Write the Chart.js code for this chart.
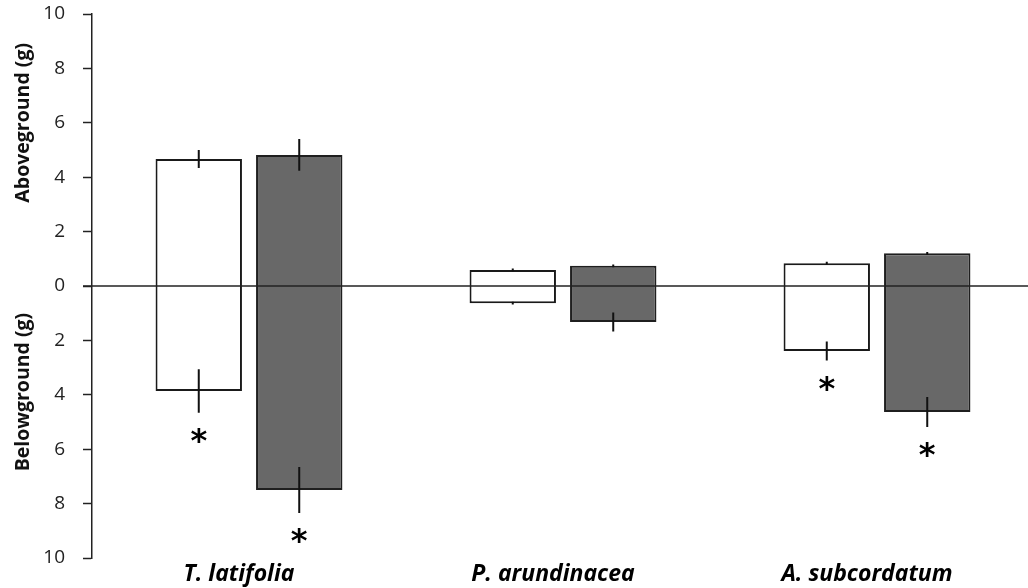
<!DOCTYPE html>
<html>
<head>
<meta charset="utf-8">
<script src="https://cdn.jsdelivr.net/npm/chart.js@4"></script>
<style>
  html, body { margin: 0; padding: 0; background: #fff; overflow: hidden; }
  #wrap { width: 1034px; height: 588px; }
</style>
</head>
<body>
<div id="wrap"><canvas id="biomassChart" width="1034" height="588"></canvas></div>
<script>
// Data (g)
const species = ['T. latifolia', 'P. arundinacea', 'A. subcordatum'];
const yTicks = [-10, -8, -6, -4, -2, 0, 2, 4, 6, 8, 10];

const whiteAbove = [4.67, 0.59, 0.84];
const whiteAboveSE = [0.33, 0.05, 0.05];
const whiteBelow = [3.86, 0.63, 2.39];
const whiteBelowSE = [0.80, 0.05, 0.35];
const whiteSig = [true, false, true];

const grayAbove = [4.82, 0.74, 1.20];
const grayAboveSE = [0.58, 0.05, 0.05];
const grayBelow = [7.50, 1.32, 4.63];
const grayBelowSE = [0.85, 0.35, 0.55];
const graySig = [true, false, true];

const errors = [
    { above: whiteAbove, aboveSE: whiteAboveSE, below: whiteBelow, belowSE: whiteBelowSE, sig: whiteSig },
    { above: grayAbove, aboveSE: grayAboveSE, below: grayBelow, belowSE: grayBelowSE, sig: graySig }
];

// floating bars: from -below to +above
const toRange = (above, below) => above.map((a, i) => [-below[i], a]);

// error bars, zero line and asterisks
const extrasPlugin = {
    id: 'extras',
    afterDatasetsDraw(chart) {
        const c = chart.ctx;
        const y = chart.scales.y;
        const area = chart.chartArea;

        // zero line across the plot
        c.save();
        c.strokeStyle = '#222';
        c.lineWidth = 1.5;
        c.beginPath();
        c.moveTo(area.left - 9, y.getPixelForValue(0));
        c.lineTo(chart.width, y.getPixelForValue(0));
        c.stroke();

        errors.forEach((e, di) => {
            const meta = chart.getDatasetMeta(di);
            meta.data.forEach((bar, i) => {
                const x = bar.x;
                c.strokeStyle = '#111';
                c.lineWidth = 2;
                c.beginPath();
                c.moveTo(x, y.getPixelForValue(e.above[i] + e.aboveSE[i]));
                c.lineTo(x, y.getPixelForValue(e.above[i] - e.aboveSE[i]));
                c.moveTo(x, y.getPixelForValue(-e.below[i] + e.belowSE[i]));
                c.lineTo(x, y.getPixelForValue(-e.below[i] - e.belowSE[i]));
                c.stroke();
                if (e.sig[i]) {
                    const yEnd = y.getPixelForValue(-e.below[i] - e.belowSE[i]);
                    c.fillStyle = '#000';
                    c.font = 'bold 32px "DejaVu Sans"';
                    c.textAlign = 'center';
                    c.textBaseline = 'middle';
                    c.fillText('*', x, yEnd + 30);
                }
            });
        });
        c.restore();
    },
    afterDraw(chart) {
        const c = chart.ctx;
        const y = chart.scales.y;
        const titles = [['Aboveground (g)', 6], ['Belowground (g)', -3.9]];
        titles.forEach(([text, v]) => {
            c.save();
            c.fillStyle = '#111';
            c.font = 'bold 19.5px "Open Sans"';
            c.textAlign = 'center';
            c.textBaseline = 'middle';
            c.translate(23, y.getPixelForValue(v));
            c.rotate(-Math.PI / 2);
            c.fillText(text, 0, 0);
            c.restore();
        });
    }
};

const ctx = document.getElementById('biomassChart').getContext('2d');
new Chart(ctx, {
    type: 'bar',
    data: {
        labels: species,
        datasets: [{
            label: 'White',
            data: toRange(whiteAbove, whiteBelow),
            backgroundColor: '#ffffff',
            borderColor: '#1a1a1a',
            borderWidth: 2,
            borderSkipped: false
        }, {
            label: 'Gray',
            data: toRange(grayAbove, grayBelow),
            backgroundColor: '#686868',
            borderColor: '#1f1f1f',
            borderWidth: 2,
            borderSkipped: false
        }]
    },
    options: {
        responsive: false,
        animation: false,
        categoryPercentage: 0.64,
        barPercentage: 0.86,
        layout: { padding: { top: 14 } },
        plugins: {
            legend: { display: false },
            tooltip: { enabled: false }
        },
        scales: {
            x: {
                grid: { display: false, drawTicks: false },
                border: { display: false },
                ticks: {
                    color: '#000',
                    padding: 3,
                    labelOffset: -10,
                    font: { family: 'Open Sans', size: 23, weight: 'bold', style: 'italic' }
                },
                afterFit(scale) { scale.height = 30; }
            },
            y: {
                min: -10,
                max: 10,
                afterBuildTicks(scale) { scale.ticks = yTicks.map(v => ({ value: v })); },
                grid: {
                    drawOnChartArea: false,
                    drawTicks: true,
                    tickLength: 9,
                    tickColor: '#222',
                    tickWidth: 1.5
                },
                border: { display: true, color: '#222', width: 1.5 },
                ticks: {
                    color: '#222',
                    padding: 18,
                    font: { family: 'Open Sans', size: 19 },
                    callback: v => Math.abs(v)
                },
                afterFit(scale) {
                    scale.width = 92;
                    scale.paddingTop = 0;
                    scale.paddingBottom = 0;
                }
            }
        }
    },
    plugins: [extrasPlugin]
});
</script>
</body>
</html>
